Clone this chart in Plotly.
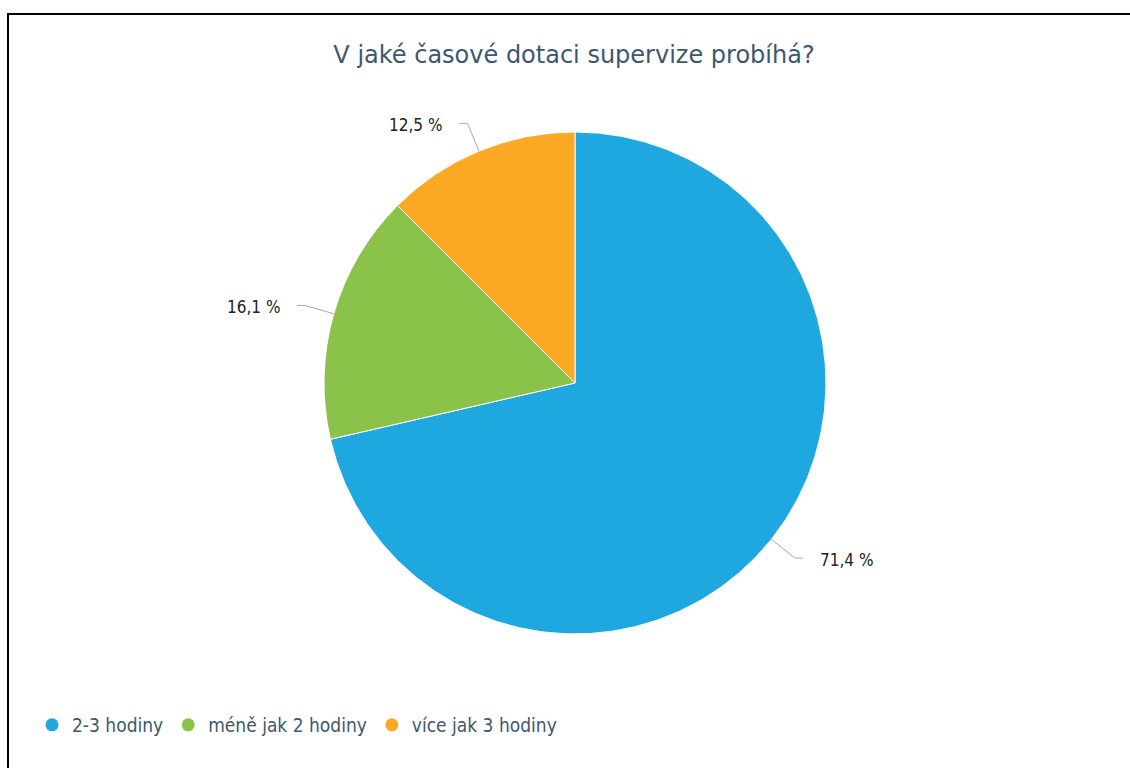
import math
import plotly.graph_objects as go

# Survey answers and their shares (%)
categories = ["2-3 hodiny", "méně jak 2 hodiny", "více jak 3 hodiny"]
shares = [71.4, 16.1, 12.5]
colors = ["#1FA8E0", "#8BC34A", "#FBA924"]
title_text = "V jaké časové dotaci supervize probíhá?"

W, H = 1130, 768
CX, CY, R = 575, 383, 251  # pie centre and radius in pixels


def px(x):
    return x / W


def py(y):
    return 1 - y / H


fig = go.Figure()

fig.add_trace(go.Pie(
    labels=categories,
    values=shares,
    marker=dict(colors=colors, line=dict(color="#FFFFFF", width=1)),
    sort=False,
    direction="clockwise",
    rotation=0,
    textinfo="none",
    hoverinfo="label+percent",
    showlegend=False,
    domain=dict(x=[px(CX - R), px(CX + R)], y=[py(CY + R), py(CY - R)]),
))

# Legend entries with round markers
for name, col in zip(categories, colors):
    fig.add_trace(go.Scatter(
        x=[None], y=[None], mode="markers", name=name,
        marker=dict(color=col, size=13, symbol="circle"),
    ))

# Outside data labels with connector lines, placed from each slice's mid-angle
shapes = []
annotations = []
total = sum(shares)
cum = 0.0
for val in shares:
    mid = (cum + val / 2) / total * 2 * math.pi
    cum += val
    sx, sy = math.sin(mid), -math.cos(mid)
    ex, ey = CX + R * sx, CY + R * sy
    bx, by = CX + (R + 30) * sx, CY + (R + 30) * sy
    side = 1 if sx >= 0 else -1
    tx = bx + side * 8
    shapes.append(dict(
        type="path", xref="paper", yref="paper",
        path=f"M {px(ex)} {py(ey)} L {px(bx)} {py(by)} L {px(tx)} {py(by)}",
        line=dict(color="#A8A8A8", width=1),
    ))
    annotations.append(dict(
        x=px(bx + side * 23), y=py(by + 2), xref="paper", yref="paper",
        text=f"{val:.1f}".replace(".", ",") + " %",
        showarrow=False,
        xanchor="left" if side > 0 else "right", yanchor="middle",
        font=dict(family="DejaVu Sans Condensed, DejaVu Sans", size=17, color="#222222"),
    ))

# Frame lines along the left and top edges
shapes.append(dict(
    type="path", xref="paper", yref="paper",
    path=f"M {px(8)} {py(H + 5)} L {px(8)} {py(14)} L {px(W + 5)} {py(14)}",
    line=dict(color="#000000", width=2),
))

fig.update_layout(
    width=W, height=H,
    margin=dict(l=0, r=0, t=0, b=0),
    paper_bgcolor="#FFFFFF",
    plot_bgcolor="#FFFFFF",
    title=dict(
        text=title_text, x=px(574), y=py(55), xanchor="center", yanchor="middle",
        xref="paper", yref="paper",
        font=dict(family="DejaVu Sans", size=24, color="#3E576F"),
    ),
    xaxis=dict(visible=False),
    yaxis=dict(visible=False),
    legend=dict(
        orientation="h", x=px(32), y=py(725), xanchor="left", yanchor="middle",
        font=dict(family="DejaVu Sans Condensed, DejaVu Sans", size=19, color="#3E576F"),
        itemwidth=30, tracegroupgap=0,
    ),
    shapes=shapes,
    annotations=annotations,
)

fig.write_html("out.html")
